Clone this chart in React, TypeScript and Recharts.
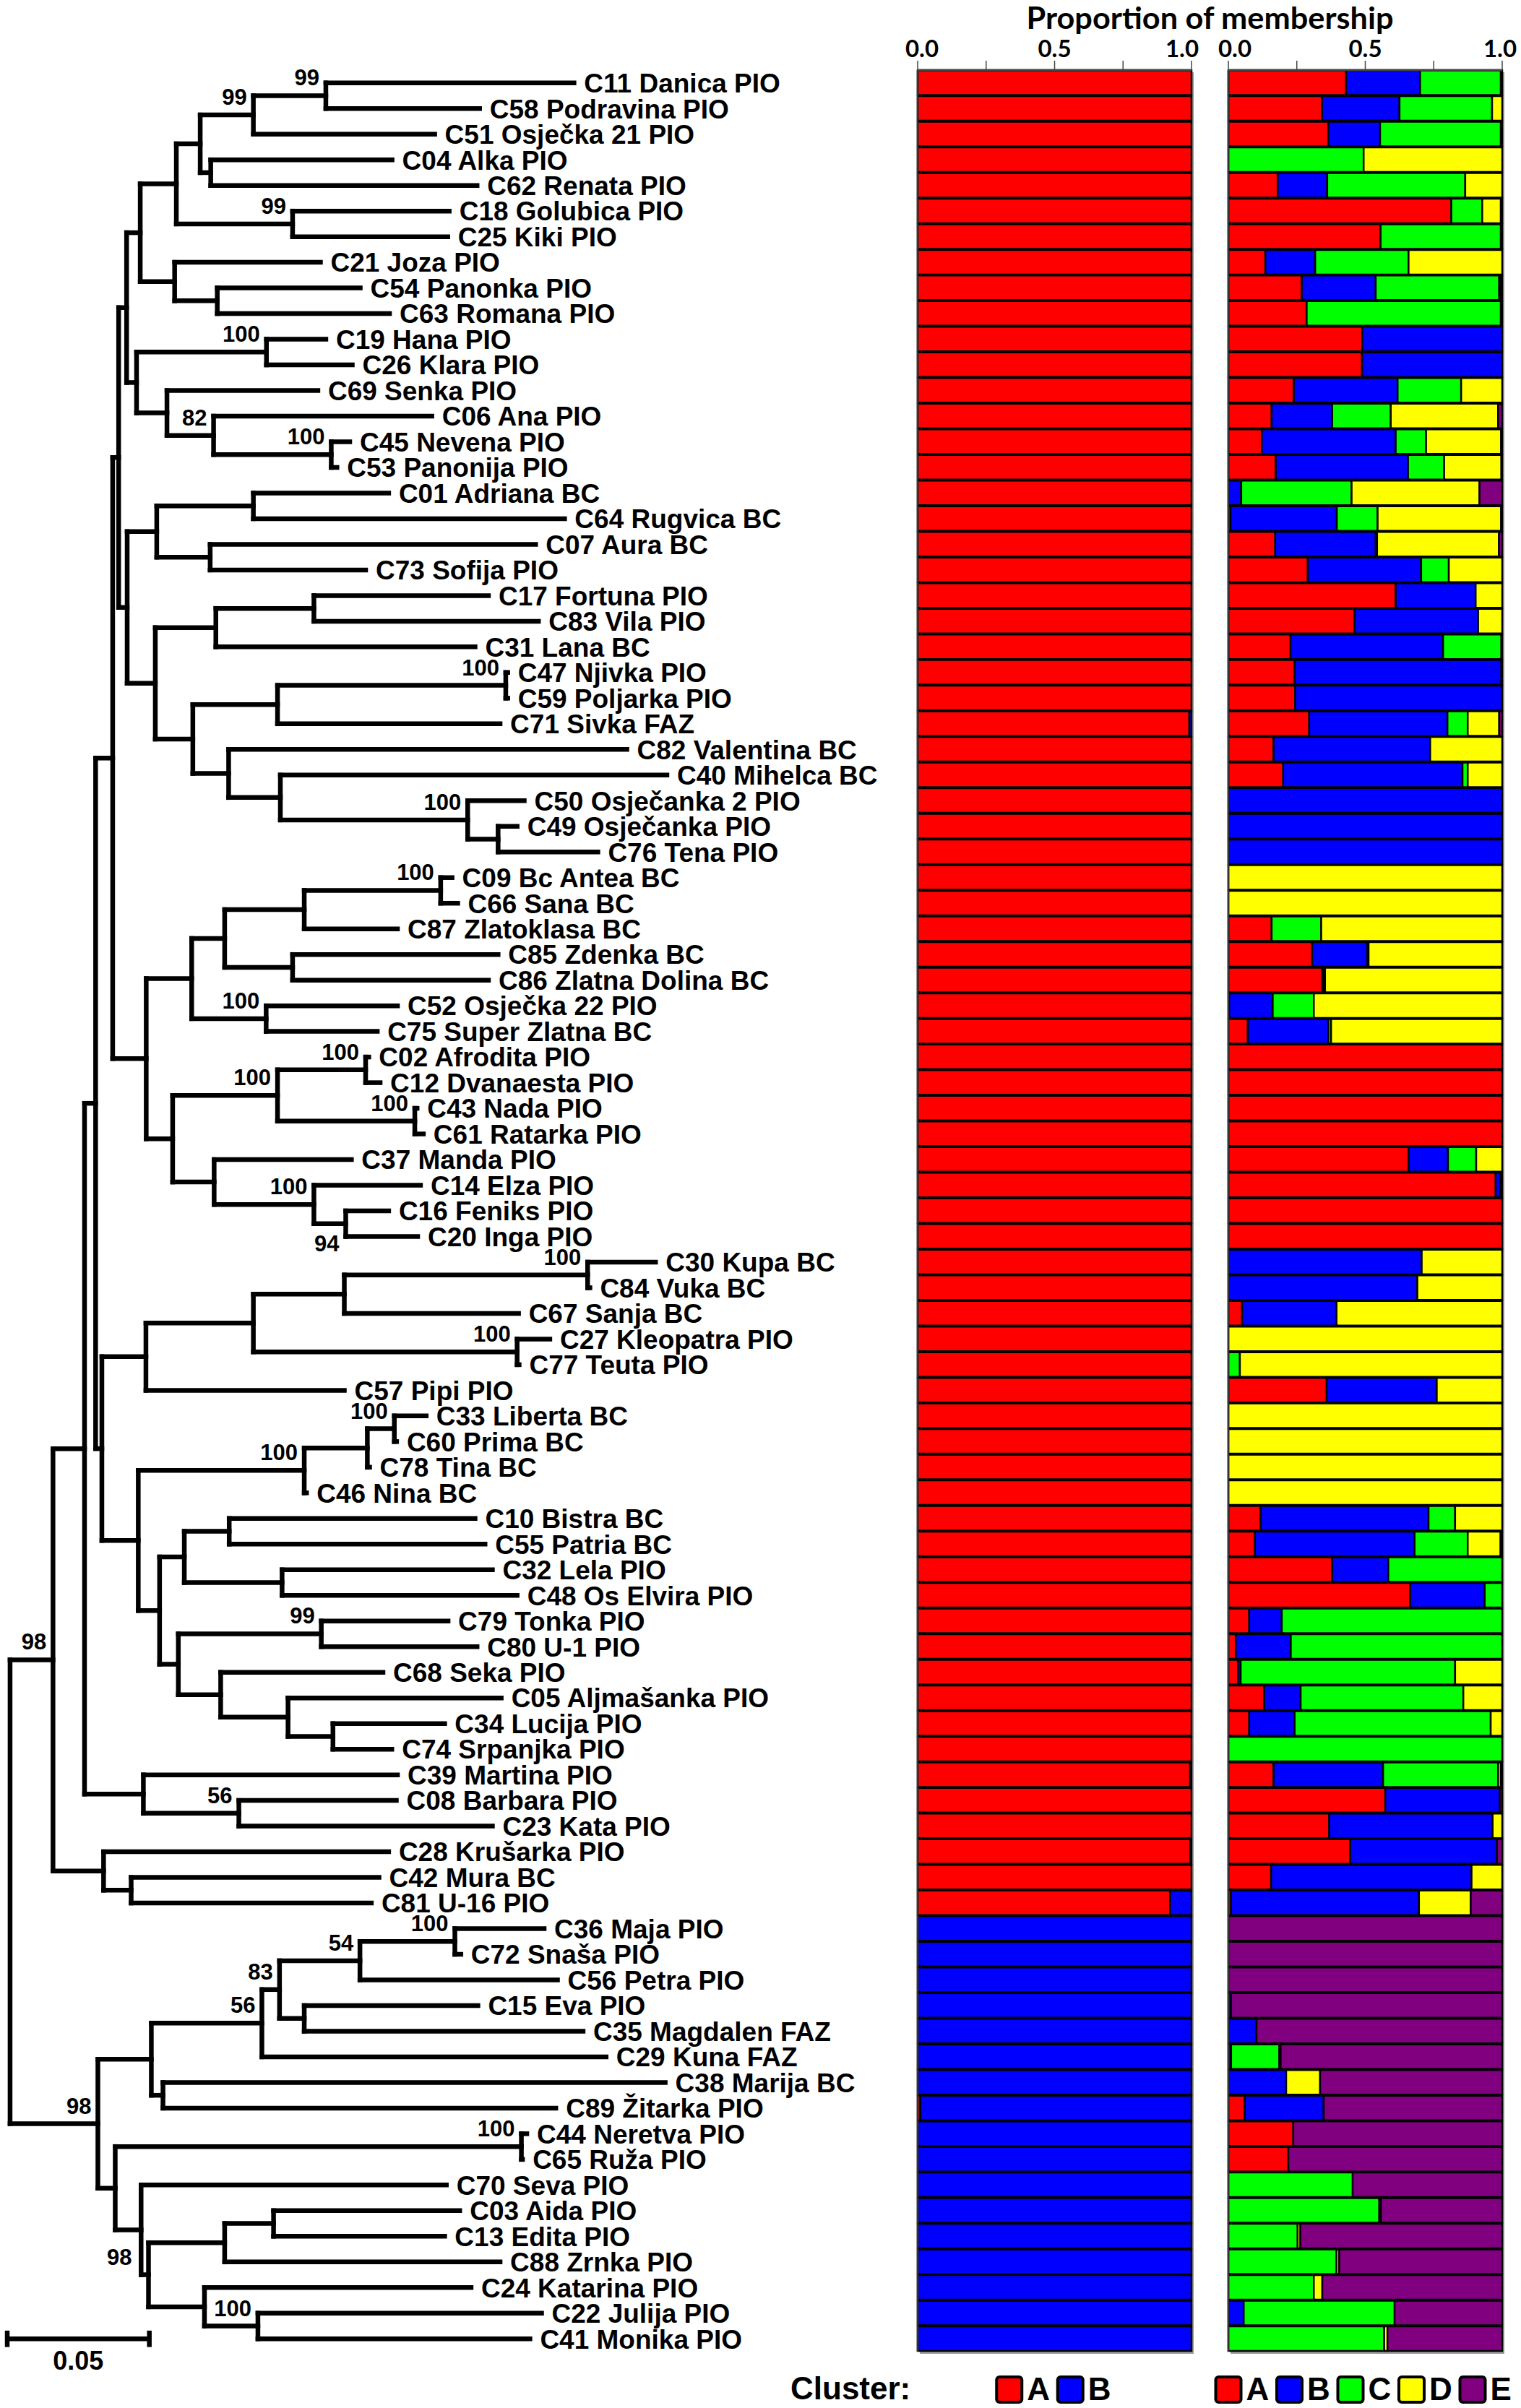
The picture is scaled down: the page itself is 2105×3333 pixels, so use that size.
import React from "react";
import { ComposedChart, Scatter, XAxis, YAxis, ReferenceLine, BarChart, Bar } from "recharts";

// ---------- Leaves (top to bottom) ----------
const leafCodes = [
  "C11","C58","C51","C04","C62","C18","C25","C21","C54","C63",
  "C19","C26","C69","C06","C45","C53","C01","C64","C07","C73",
  "C17","C83","C31","C47","C59","C71","C82","C40","C50","C49",
  "C76","C09","C66","C87","C85","C86","C52","C75","C02","C12",
  "C43","C61","C37","C14","C16","C20","C30","C84","C67","C27",
  "C77","C57","C33","C60","C78","C46","C10","C55","C32","C48",
  "C79","C80","C68","C05","C34","C74","C39","C08","C23","C28",
  "C42","C81","C36","C72","C56","C15","C35","C29","C38","C89",
  "C44","C65","C70","C03","C13","C88","C24","C22","C41",
];
const leafNames = [
  "Danica PIO","Podravina PIO","Osječka 21 PIO","Alka PIO","Renata PIO","Golubica PIO","Kiki PIO","Joza PIO","Panonka PIO","Romana PIO",
  "Hana PIO","Klara PIO","Senka PIO","Ana PIO","Nevena PIO","Panonija PIO","Adriana BC","Rugvica BC","Aura BC","Sofija PIO",
  "Fortuna PIO","Vila PIO","Lana BC","Njivka PIO","Poljarka PIO","Sivka FAZ","Valentina BC","Mihelca BC","Osječanka 2 PIO","Osječanka PIO",
  "Tena PIO","Bc Antea BC","Sana BC","Zlatoklasa BC","Zdenka BC","Zlatna Dolina BC","Osječka 22 PIO","Super Zlatna BC","Afrodita PIO","Dvanaesta PIO",
  "Nada PIO","Ratarka PIO","Manda PIO","Elza PIO","Feniks PIO","Inga PIO","Kupa BC","Vuka BC","Sanja BC","Kleopatra PIO",
  "Teuta PIO","Pipi PIO","Liberta BC","Prima BC","Tina BC","Nina BC","Bistra BC","Patria BC","Lela PIO","Os Elvira PIO",
  "Tonka PIO","U-1 PIO","Seka PIO","Aljmašanka PIO","Lucija PIO","Srpanjka PIO","Martina PIO","Barbara PIO","Kata PIO","Krušarka PIO",
  "Mura BC","U-16 PIO","Maja PIO","Snaša PIO","Petra PIO","Eva PIO","Magdalen FAZ","Kuna FAZ","Marija BC","Žitarka PIO",
  "Neretva PIO","Ruža PIO","Seva PIO","Aida PIO","Edita PIO","Zrnka PIO","Katarina PIO","Julija PIO","Monika PIO",
];
// tip distance from root, in units of 0.001
const leafDepths = [
  198.4, 165.2, 149.4, 134.4, 164.3, 154.5, 154.0, 109.2, 123.2, 133.5,
  111.1, 120.4, 108.3, 148.4, 119.5, 115.0, 133.2, 195.1, 184.9, 125.1,
  168.3, 185.9, 163.6, 175.1, 175.1, 172.4, 217.0, 231.1, 180.9, 178.4,
  206.8, 155.5, 157.5, 136.3, 171.7, 168.3, 136.3, 129.2, 126.2, 130.2,
  143.2, 145.4, 120.1, 144.4, 133.2, 143.4, 227.1, 204.0, 178.9, 189.9,
  179.1, 117.6, 146.4, 136.0, 126.5, 104.3, 163.6, 167.1, 169.7, 178.4,
  154.1, 164.3, 131.2, 172.8, 152.9, 134.3, 136.3, 135.9, 169.7, 133.2,
  129.8, 127.1, 187.9, 158.6, 192.6, 164.6, 201.6, 209.7, 230.5, 192.0,
  181.8, 180.3, 153.5, 158.2, 152.9, 172.4, 162.2, 187.0, 182.9,
];

// ---------- Internal nodes: [id, child1, child2, depth (0.001 units), bootstrap] ----------
const internalNodes: [string, string, string, number, number | null][] = [
  ["n1_2", "C11", "C58", 111.1, 99],
  ["n1_3", "n1_2", "C51", 85.6, 99],
  ["n4_5", "C04", "C62", 70.6, null],
  ["n1_5", "n1_3", "n4_5", 66.9, null],
  ["n6_7", "C18", "C25", 99.4, 99],
  ["n1_7", "n1_5", "n6_7", 58.5, null],
  ["n9_10", "C54", "C63", 72.9, null],
  ["n8_10", "C21", "n9_10", 57.9, null],
  ["n1_10", "n1_7", "n8_10", 45.8, null],
  ["n11_12", "C19", "C26", 90.2, 100],
  ["n15_16", "C45", "C53", 113.0, 100],
  ["n14_16", "C06", "n15_16", 71.6, 82],
  ["n13_16", "C69", "n14_16", 55.2, null],
  ["n11_16", "n11_12", "n13_16", 44.5, null],
  ["n1_16", "n1_10", "n11_16", 41.0, null],
  ["n17_18", "C01", "C64", 85.6, null],
  ["n19_20", "C07", "C73", 70.4, null],
  ["n17_20", "n17_18", "n19_20", 51.6, null],
  ["n21_22", "C17", "C83", 106.9, null],
  ["n21_23", "n21_22", "C31", 72.4, null],
  ["n24_25", "C47", "C59", 174.4, 100],
  ["n24_26", "n24_25", "C71", 94.1, null],
  ["n30_31", "C49", "C76", 171.7, null],
  ["n29_31", "C50", "n30_31", 161.0, 100],
  ["n28_31", "C40", "n29_31", 95.1, null],
  ["n27_31", "C82", "n28_31", 76.9, null],
  ["n24_31", "n24_26", "n27_31", 64.3, null],
  ["n21_31", "n21_23", "n24_31", 51.1, null],
  ["n17_31", "n17_20", "n21_31", 41.2, null],
  ["n1_31", "n1_16", "n17_31", 38.2, null],
  ["n32_33", "C09", "C66", 151.5, 100],
  ["n32_34", "n32_33", "C87", 103.5, null],
  ["n35_36", "C85", "C86", 99.4, null],
  ["n32_36", "n32_34", "n35_36", 75.5, null],
  ["n37_38", "C52", "C75", 90.1, 100],
  ["n32_38", "n32_36", "n37_38", 63.9, null],
  ["n39_40", "C02", "C12", 125.1, 100],
  ["n41_42", "C43", "C61", 142.4, 100],
  ["n39_42", "n39_40", "n41_42", 94.1, 100],
  ["n45_46", "C16", "C20", 118.1, 94],
  ["n44_46", "C14", "n45_46", 106.9, 100],
  ["n43_46", "C37", "n44_46", 71.8, null],
  ["n39_46", "n39_42", "n43_46", 57.2, null],
  ["n32_46", "n32_38", "n39_46", 47.9, null],
  ["n1_46", "n1_31", "n32_46", 36.1, null],
  ["n47_48", "C30", "C84", 203.2, 100],
  ["n47_49", "n47_48", "C67", 117.6, null],
  ["n50_51", "C27", "C77", 178.4, 100],
  ["n47_51", "n47_49", "n50_51", 85.6, null],
  ["n47_52", "n47_51", "C57", 47.8, null],
  ["n53_54", "C33", "C60", 135.2, 100],
  ["n53_55", "n53_54", "C78", 125.7, null],
  ["n53_56", "n53_55", "C46", 103.5, 100],
  ["n57_58", "C10", "C55", 77.1, null],
  ["n59_60", "C32", "C48", 95.7, null],
  ["n57_60", "n57_58", "n59_60", 61.3, null],
  ["n61_62", "C79", "C80", 109.5, 99],
  ["n65_66", "C34", "C74", 113.6, null],
  ["n64_66", "C05", "n65_66", 97.8, null],
  ["n63_66", "C68", "n64_66", 74.1, null],
  ["n61_66", "n61_62", "n63_66", 59.2, null],
  ["n57_66", "n57_60", "n61_66", 52.6, null],
  ["n53_66", "n53_56", "n57_66", 45.1, null],
  ["n47_66", "n47_52", "n53_66", 32.3, null],
  ["n1_66", "n1_46", "n47_66", 30.1, null],
  ["n68_69", "C08", "C23", 80.5, 56],
  ["n67_69", "C39", "n68_69", 46.9, null],
  ["n1_69", "n1_66", "n67_69", 26.2, null],
  ["n71_72", "C42", "C81", 42.6, null],
  ["n70_72", "C28", "n71_72", 32.9, null],
  ["n1_72", "n1_69", "n70_72", 15.1, 98],
  ["n73_74", "C36", "C72", 156.5, 100],
  ["n73_75", "n73_74", "C56", 123.1, 54],
  ["n76_77", "C15", "C35", 103.5, null],
  ["n73_77", "n73_75", "n76_77", 94.8, 83],
  ["n73_78", "n73_77", "C29", 88.6, 56],
  ["n79_80", "C38", "C89", 53.8, null],
  ["n73_80", "n73_78", "n79_80", 49.7, null],
  ["n81_82", "C44", "C65", 179.9, 100],
  ["n84_85", "C03", "C13", 92.7, null],
  ["n84_86", "n84_85", "C88", 75.5, null],
  ["n88_89", "C22", "C41", 87.2, 100],
  ["n87_89", "C24", "n88_89", 68.4, null],
  ["n84_89", "n84_86", "n87_89", 48.7, 98],
  ["n83_89", "C70", "n84_89", 46.1, null],
  ["n81_89", "n81_82", "n83_89", 37.0, null],
  ["n73_89", "n73_80", "n81_89", 30.9, 98],
  ["root", "n1_72", "n73_89", 0, null],
];

const SCALE_BAR = 50; // 0.05

// ---------- Membership proportions ----------
const k2A = [
  1,1,1,1,1,1,1,1,1,1, 1,1,1,1,1,1,1,1,1,1, 1,1,1,1,1,0.992,1,1,1,1,
  1,1,1,1,1,1,1,1,1,1, 1,1,1,1,1,1,1,1,1,1, 1,1,1,1,1,1,1,1,1,1,
  1,1,1,1,1,1,0.995,1,1,0.996, 1,0.922, 0,0,0,0,0,0,0,0.01, 0,0,0,0,0,0,0,0,0,
];
const k2B = [
  0,0,0,0,0,0,0,0,0,0, 0,0,0,0,0,0,0,0,0,0, 0,0,0,0,0,0.008,0,0,0,0,
  0,0,0,0,0,0,0,0,0,0, 0,0,0,0,0,0,0,0,0,0, 0,0,0,0,0,0,0,0,0,0,
  0,0,0,0,0,0,0.005,0,0,0.004, 0,0.078, 1,1,1,1,1,1,1,0.99, 1,1,1,1,1,1,1,1,1,
];
const k5A = [
  0.43,0.342,0.365,0,0.18,0.814,0.556,0.135,0.268,0.286,
  0.489,0.488,0.239,0.158,0.122,0.173,0,0.008,0.171,0.29,
  0.611,0.461,0.227,0.242,0.244,0.295,0.165,0.2,0,0,
  0,0,0,0.158,0.306,0.343,0.003,0.071,1,1,
  1,1,0.658,0.976,1,1,0,0,0.05,0,
  0,0.359,0,0,0,0,0.118,0.097,0.379,0.664,
  0.076,0.027,0.035,0.131,0.076,0,0.165,0.573,0.368,0.445,
  0.156,0.01,0,0,0,0,0,0,0,0.06,
  0.237,0.219,0,0,0,0,0,0,0,
];
const k5B = [
  0.27,0.283,0.189,0,0.181,0,0,0.182,0.27,0,
  0.511,0.512,0.379,0.221,0.489,0.483,0.047,0.388,0.367,0.414,
  0.292,0.451,0.557,0.755,0.754,0.505,0.572,0.655,1,1,
  1,0,0,0,0.201,0.005,0.159,0.294,0,0,
  0,0,0.144,0.018,0,0,0.706,0.69,0.345,0,
  0,0.402,0,0,0,0,0.613,0.583,0.205,0.272,
  0.119,0.201,0.01,0.133,0.166,0,0.4,0.418,0.597,0.536,
  0.732,0.686,0,0,0,0.01,0.103,0.01,0.211,0.288,
  0,0,0,0,0,0,0,0.056,0,
];
const k5C = [
  0.295,0.338,0.441,0.494,0.504,0.113,0.439,0.341,0.451,0.709,
  0,0,0.232,0.214,0.111,0.132,0.403,0.149,0.005,0.101,
  0,0,0.213,0,0,0.074,0,0.019,0,0,
  0,0,0,0.181,0.005,0.005,0.15,0.01,0,0,
  0,0,0.103,0,0,0,0,0,0,0,
  0.042,0,0,0,0,0,0.097,0.194,0.416,0.064,
  0.805,0.772,0.783,0.594,0.716,1,0.42,0,0,0,
  0,0,0,0,0,0,0,0.176,0,0,
  0,0,0.454,0.551,0.253,0.395,0.312,0.551,0.569,
];
const k5D = [
  0.005,0.037,0.005,0.506,0.135,0.068,0.005,0.342,0.006,0.005,
  0,0,0.15,0.392,0.274,0.209,0.467,0.451,0.445,0.195,
  0.097,0.088,0.003,0.003,0.002,0.115,0.263,0.126,0,0,
  0,1,1,0.661,0.488,0.647,0.688,0.625,0,0,
  0,0,0.095,0,0,0,0.294,0.31,0.605,1,
  0.958,0.239,1,1,1,1,0.172,0.12,0,0,
  0,0,0.172,0.142,0.042,0,0.01,0,0.035,0,
  0.112,0.189,0,0,0,0,0,0.005,0.124,0,
  0,0,0,0.006,0.01,0.01,0.031,0,0.012,
];
const k5E = [
  0,0,0,0,0,0.005,0,0,0.005,0,
  0,0,0,0.015,0.004,0.003,0.083,0.004,0.012,0,
  0,0,0,0,0,0.011,0,0,0,0,
  0,0,0,0,0,0,0,0,0,0,
  0,0,0,0.006,0,0,0,0,0,0,
  0,0,0,0,0,0,0,0.006,0,0,
  0,0,0,0,0,0,0.005,0.009,0,0.019,
  0,0.115,1,1,1,0.99,0.897,0.809,0.665,0.652,
  0.763,0.781,0.546,0.443,0.737,0.595,0.657,0.393,0.419,
];

const axisTicks = [0, 0.25, 0.5, 0.75, 1];
const clusterKeys2 = ["A", "B"];
const clusterKeys5 = ["A", "B", "C", "D", "E"];
const COLORS: Record<string, string> = { A: "#ff0000", B: "#0000ff", C: "#00ff00", D: "#ffff00", E: "#800080" };

const FONT = "'Liberation Sans', Arial, Helvetica, sans-serif";
const FONT2 = "Lato, 'Liberation Sans', sans-serif";

// ---------- Geometry ----------
const PAGE_W = 2105;
const PAGE_H = 3333;
const PLOT_TOP = 97;
const PLOT_BOTTOM = 3255;

function buildTree() {
  const leafIdx = new Map<string, number>();
  leafCodes.forEach((c, i) => leafIdx.set(c, i));
  const nodes = new Map<string, [string, string, string, number, number | null]>();
  internalNodes.forEach((n) => nodes.set(n[0], n));
  const segments: { x1: number; y1: number; x2: number; y2: number }[] = [];
  const supports: { x: number; y: number; s: number; id: string }[] = [];
  const visit = (id: string, parentDepth: number | null): number => {
    let y: number;
    let d: number;
    if (leafIdx.has(id)) {
      const i = leafIdx.get(id)!;
      y = i + 1;
      d = leafDepths[i];
    } else {
      const [, c1, c2, nd, sup] = nodes.get(id)!;
      d = nd;
      const ya = visit(c1, d);
      const yb = visit(c2, d);
      y = (ya + yb) / 2;
      segments.push({ x1: d, y1: ya, x2: d, y2: yb });
      if (sup != null) supports.push({ x: d, y, s: sup, id });
    }
    if (parentDepth !== null) segments.push({ x1: parentDepth, y1: y, x2: d, y2: y });
    return y;
  };
  visit("root", null);
  return { segments, supports };
}

const tree = buildTree();
const leafPoints = leafCodes.map((c, i) => ({ x: leafDepths[i], y: i + 1, label: `${c} ${leafNames[i]}` }));
const scaleLabel = [{ x: SCALE_BAR / 2 - 1, y: leafCodes.length, label: (SCALE_BAR / 1000).toFixed(2) }];

function Dendrogram() {
  const lineProps = { stroke: "#000", strokeWidth: 6.5, strokeLinecap: "square" as const, ifOverflow: "visible" as const };
  return (
    <ComposedChart width={1270} height={PAGE_H} margin={{ top: PLOT_TOP, bottom: PAGE_H - PLOT_BOTTOM, left: 10, right: 76 }}>
      <XAxis type="number" dataKey="x" domain={[-1, 300]} hide />
      <YAxis type="number" dataKey="y" domain={[0.5, leafCodes.length + 0.5]} reversed hide />
      {tree.segments.map((s, i) => (
        <ReferenceLine key={"s" + i} segment={[{ x: s.x1, y: s.y1 }, { x: s.x2, y: s.y2 }]} {...lineProps} />
      ))}
      <ReferenceLine segment={[{ x: -1, y: 89 }, { x: SCALE_BAR - 1, y: 89 }]} {...lineProps} strokeLinecap="butt" />
      <ReferenceLine segment={[{ x: -1, y: 88.68 }, { x: -1, y: 89.32 }]} {...lineProps} strokeLinecap="butt" />
      <ReferenceLine segment={[{ x: SCALE_BAR - 1, y: 88.68 }, { x: SCALE_BAR - 1, y: 89.32 }]} {...lineProps} strokeLinecap="butt" />
      <Scatter
        data={leafPoints}
        isAnimationActive={false}
        shape={(p: any) => (
          <text x={p.cx + 14} y={p.cy} dy="0.36em" fontFamily={FONT} fontWeight="bold" fontSize={37} fill="#000">
            {p.payload.label}
          </text>
        )}
      />
      <Scatter
        data={tree.supports}
        isAnimationActive={false}
        shape={(p: any) => {
          const below = p.payload.id === "n45_46";
          const dx = p.payload.id === "n84_89" ? -14 : 0;
          return (
            <text x={p.cx - 9 + dx} y={below ? p.cy + 38 : p.cy - 14} textAnchor="end" fontFamily={FONT} fontWeight="bold" fontSize={31} fill="#000">
              {p.payload.s}
            </text>
          );
        }}
      />
      <Scatter
        data={scaleLabel}
        isAnimationActive={false}
        shape={(p: any) => (
          <text x={p.cx} y={p.cy + 43} textAnchor="middle" fontFamily={FONT} fontWeight="bold" fontSize={36} fill="#000">
            {p.payload.label}
          </text>
        )}
      />
    </ComposedChart>
  );
}

const k2Data = leafCodes.map((c, i) => ({ name: c, A: k2A[i], B: k2B[i] }));
const k5Data = leafCodes.map((c, i) => ({ name: c, A: k5A[i], B: k5B[i], C: k5C[i], D: k5D[i], E: k5E[i] }));

function Membership({ data, keys, shift0, shift1 }: { data: any[]; keys: string[]; shift0: number; shift1: number }) {
  const tick = (p: any) => {
    const v = p.payload.value;
    if (v !== 0 && v !== 0.5 && v !== 1) return <g />;
    const dx = v === 0 ? shift0 : v === 1 ? shift1 : 0;
    return (
      <text x={p.x + dx} y={p.y} textAnchor="middle" fontFamily={FONT2} fontWeight="bold" fontSize={33} fill="#000">
        {Number(v).toFixed(1)}
      </text>
    );
  };
  return (
    <BarChart
      width={419}
      height={PAGE_H}
      data={data}
      layout="vertical"
      barCategoryGap={0.5}
      margin={{ top: PLOT_TOP - 60, right: 20, left: 20, bottom: PAGE_H - PLOT_BOTTOM }}
    >
      <XAxis
        type="number"
        orientation="top"
        domain={[0, 1]}
        ticks={axisTicks}
        height={60}
        tickSize={13}
        tickMargin={5}
        axisLine={{ stroke: "#444", strokeWidth: 3 }}
        tickLine={{ stroke: "#444", strokeWidth: 1.5 }}
        tick={tick}
      />
      <YAxis type="category" dataKey="name" hide />
      {keys.map((k) => (
        <Bar key={k} dataKey={k} stackId="s" fill={COLORS[k]} stroke="#000" strokeWidth={2.5} isAnimationActive={false} />
      ))}
      <ReferenceLine x={0} stroke="#333" strokeWidth={2.5} />
    </BarChart>
  );
}

function LegendRow({ keys, center }: { keys: string[]; center: number }) {
  const pitch = 84.5;
  const total = (keys.length - 1) * pitch + 76;
  const start = center - total / 2;
  return (
    <g>
      {keys.map((k, i) => (
        <g key={k}>
          <rect x={start + i * pitch} y={3290} width={35} height={35} rx={4} fill={COLORS[k]} stroke="#000" strokeWidth={4} />
          <text x={start + i * pitch + 42} y={3322} fontFamily={FONT} fontWeight="bold" fontSize={44} fill="#000">
            {k}
          </text>
        </g>
      ))}
    </g>
  );
}

export default function App() {
  const c1 = 1270;
  const c2 = 1700;
  const w = 379;
  return (
    <div style={{ position: "absolute", left: 0, top: 0, width: PAGE_W, height: PAGE_H, background: "#fff", overflow: "hidden" }}>
      <div style={{ position: "absolute", left: 0, top: 0 }}>
        <Dendrogram />
      </div>
      <div style={{ position: "absolute", left: c1 + 3, top: PLOT_TOP + 3, width: w, height: PLOT_BOTTOM - PLOT_TOP, background: "#9a9a9a" }} />
      <div style={{ position: "absolute", left: c2 + 3, top: PLOT_TOP + 3, width: w, height: PLOT_BOTTOM - PLOT_TOP, background: "#9a9a9a" }} />
      <div style={{ position: "absolute", left: c1 - 20, top: 0 }}>
        <Membership data={k2Data} keys={clusterKeys2} shift0={6} shift1={-13} />
      </div>
      <div style={{ position: "absolute", left: c2 - 20, top: 0 }}>
        <Membership data={k5Data} keys={clusterKeys5} shift0={9} shift1={-3} />
      </div>
      <svg width={PAGE_W} height={PAGE_H} style={{ position: "absolute", left: 0, top: 0, pointerEvents: "none" }}>
        <text x={(c1 + c2 + w) / 2} y={40} textAnchor="middle" fontFamily={FONT2} fontWeight="bold" fontSize={42} textLength={508} lengthAdjust="spacingAndGlyphs" fill="#000">
          Proportion of membership
        </text>
        <text x={1094} y={3321} fontFamily={FONT} fontWeight="bold" fontSize={44} fill="#000">
          Cluster:
        </text>
        <LegendRow keys={clusterKeys2} center={c1 + w / 2} />
        <LegendRow keys={clusterKeys5} center={c2 + w / 2} />
      </svg>
    </div>
  );
}
